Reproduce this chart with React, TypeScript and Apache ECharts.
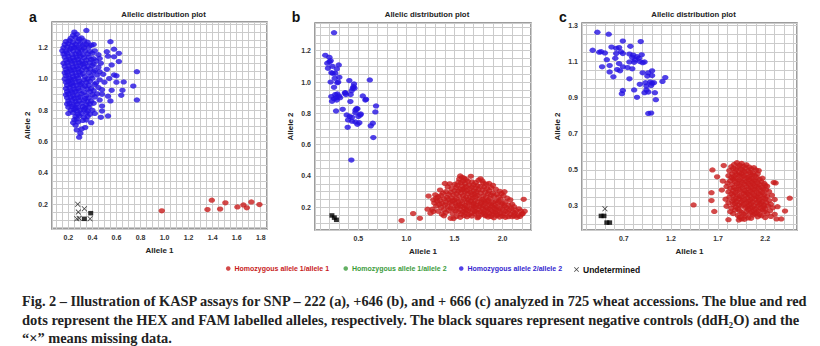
import React, { useEffect, useRef } from "react";
import * as echarts from "echarts";

// ---------- data ----------
const aBlue: number[][] = [
  [0.25,1.30],[0.35,1.31],[0.24,1.28],[0.27,1.285],
  [0.22,1.26],[0.26,1.265],[0.29,1.255],[0.31,1.262],
  [0.18,1.24],[0.21,1.245],[0.24,1.235],[0.28,1.24],[0.33,1.245],[0.36,1.235],[0.55,1.238],
  [0.17,1.22],[0.20,1.225],[0.23,1.215],[0.26,1.22],[0.30,1.225],[0.32,1.215],[0.35,1.22],[0.39,1.215],[0.41,1.22],
  [0.16,1.20],[0.19,1.205],[0.22,1.195],[0.25,1.20],[0.27,1.205],[0.29,1.195],[0.33,1.20],[0.37,1.205],[0.58,1.19],
  [0.15,1.18],[0.18,1.175],[0.21,1.185],[0.24,1.18],[0.28,1.175],[0.31,1.185],[0.34,1.18],[0.38,1.175],[0.42,1.18],[0.52,1.174],[0.62,1.164],
  [0.16,1.16],[0.19,1.165],[0.23,1.155],[0.26,1.16],[0.29,1.165],[0.32,1.155],[0.36,1.16],[0.40,1.165],[0.45,1.155],[0.53,1.146],[0.58,1.142],
  [0.17,1.14],[0.20,1.145],[0.24,1.135],[0.27,1.14],[0.30,1.145],[0.33,1.135],[0.37,1.14],[0.41,1.13],[0.46,1.131],
  [0.18,1.12],[0.21,1.125],[0.22,1.115],[0.25,1.12],[0.28,1.125],[0.31,1.115],[0.35,1.12],[0.39,1.125],[0.43,1.115],[0.62,1.111],
  [0.16,1.10],[0.19,1.105],[0.23,1.095],[0.26,1.10],[0.29,1.105],[0.32,1.095],[0.34,1.10],[0.38,1.105],[0.41,1.095],[0.47,1.10],[0.56,1.09],
  [0.17,1.08],[0.20,1.085],[0.24,1.075],[0.27,1.08],[0.30,1.085],[0.33,1.075],[0.36,1.08],[0.40,1.085],[0.45,1.075],[0.52,1.062],
  [0.18,1.06],[0.21,1.065],[0.22,1.055],[0.25,1.06],[0.28,1.065],[0.31,1.055],[0.35,1.06],[0.38,1.065],[0.42,1.055],[0.46,1.047],[0.77,1.047],
  [0.17,1.04],[0.19,1.045],[0.23,1.035],[0.26,1.04],[0.29,1.045],[0.32,1.035],[0.37,1.04],[0.41,1.045],[0.49,1.03],
  [0.18,1.02],[0.20,1.025],[0.24,1.015],[0.27,1.02],[0.30,1.025],[0.34,1.015],[0.39,1.02],[0.44,1.025],[0.58,1.026],[0.60,1.02],
  [0.17,1.00],[0.21,1.005],[0.22,0.995],[0.25,1.00],[0.28,1.005],[0.33,0.995],[0.36,1.00],[0.40,1.005],[0.46,0.995],[0.54,1.003],
  [0.18,0.98],[0.20,0.985],[0.23,0.975],[0.26,0.98],[0.29,0.985],[0.31,0.975],[0.35,0.98],[0.38,0.985],[0.43,0.975],[0.50,0.98],[0.60,0.98],[0.66,0.981],
  [0.19,0.96],[0.22,0.965],[0.24,0.955],[0.27,0.96],[0.30,0.965],[0.34,0.955],[0.37,0.96],[0.42,0.965],[0.74,0.955],
  [0.18,0.94],[0.21,0.945],[0.25,0.935],[0.28,0.94],[0.32,0.945],[0.36,0.935],[0.39,0.94],[0.45,0.945],[0.48,0.932],
  [0.19,0.92],[0.22,0.925],[0.23,0.915],[0.26,0.92],[0.29,0.925],[0.33,0.915],[0.38,0.92],[0.41,0.925],[0.56,0.928],[0.65,0.928],
  [0.18,0.90],[0.20,0.905],[0.24,0.895],[0.27,0.90],[0.31,0.905],[0.35,0.895],[0.40,0.90],[0.44,0.905],[0.48,0.902],[0.53,0.89],[0.64,0.896],
  [0.19,0.88],[0.22,0.885],[0.25,0.875],[0.28,0.88],[0.30,0.885],[0.34,0.875],[0.37,0.88],[0.42,0.885],
  [0.20,0.86],[0.23,0.865],[0.26,0.855],[0.29,0.86],[0.33,0.865],[0.36,0.855],[0.39,0.86],[0.46,0.866],[0.55,0.86],[0.77,0.866],
  [0.19,0.84],[0.21,0.845],[0.24,0.835],[0.27,0.84],[0.31,0.845],[0.35,0.835],[0.38,0.84],[0.41,0.845],
  [0.20,0.82],[0.23,0.825],[0.26,0.815],[0.28,0.82],[0.32,0.825],[0.34,0.815],[0.37,0.82],[0.48,0.827],
  [0.22,0.80],[0.25,0.805],[0.27,0.795],[0.30,0.80],[0.33,0.805],[0.36,0.795],[0.40,0.80],[0.48,0.795],
  [0.20,0.78],[0.24,0.785],[0.28,0.775],[0.31,0.78],[0.35,0.785],[0.38,0.775],[0.42,0.78],[0.53,0.764],
  [0.26,0.76],[0.29,0.765],[0.33,0.755],[0.36,0.76],[0.47,0.755],
  [0.25,0.74],[0.27,0.745],[0.32,0.735],[0.35,0.738],[0.39,0.721],
  [0.24,0.72],[0.28,0.725],[0.26,0.705],[0.34,0.69],
  [0.27,0.675],[0.31,0.68],[0.30,0.654],[0.29,0.628],
];
const aRed: number[][] = [
  [0.977,0.158],[1.357,0.166],[1.393,0.226],[1.462,0.169],[1.506,0.209],
  [1.606,0.183],[1.656,0.196],[1.684,0.177],[1.722,0.215],[1.789,0.198],
];
const aUndet: number[][] = [
  [0.278,0.20],[0.333,0.171],[0.283,0.150],[0.27,0.107],[0.29,0.11],[0.381,0.107],
];
const aCtrl: number[][] = [[0.333,0.107],[0.386,0.143]];

const bBlue: number[][] = [
  [0.247,1.315],[0.156,1.171],[0.198,1.158],[0.212,1.136],[0.177,1.12],[0.296,1.109],
  [0.184,1.088],[0.275,1.083],[0.233,1.056],[0.26,1.056],[0.302,1.03],[0.254,1.024],
  [0.212,1.0],[0.281,0.996],[0.406,1.009],[0.455,0.988],[0.619,1.013],[0.247,0.966],
  [0.442,0.96],[0.43,0.945],[0.365,0.932],[0.281,0.924],[0.219,0.907],[0.42,0.92],
  [0.546,0.911],[0.247,0.894],[0.275,0.885],[0.226,0.877],[0.573,0.885],[0.417,0.875],
  [0.268,0.815],[0.337,0.826],[0.49,0.83],[0.684,0.847],[0.379,0.79],[0.469,0.804],
  [0.525,0.796],[0.5,0.78],[0.677,0.809],[0.434,0.775],[0.393,0.758],[0.434,0.75],
  [0.51,0.74],[0.49,0.73],[0.65,0.737],[0.629,0.72],[0.389,0.711],[0.656,0.645],[0.427,0.502],
  [0.20,1.13],[0.23,1.10],[0.22,1.06],[0.29,1.00],[0.36,0.93],[0.37,0.92],[0.45,0.97],
  [0.46,0.96],[0.47,0.82],[0.48,0.83],[0.52,0.79],[0.41,0.78],[0.26,0.92],[0.30,0.91],
  [0.31,0.90],[0.27,0.90],[0.58,0.89],[0.47,0.745],
];
const bRed: number[][] = [
  [1.56,0.400],[1.67,0.398],[1.58,0.390],[1.60,0.386],
  [1.55,0.380],[1.62,0.378],[1.77,0.382],
  [1.59,0.370],[1.64,0.366],[1.75,0.372],[1.79,0.368],
  [1.54,0.360],[1.57,0.356],[1.68,0.362],[1.72,0.358],[1.80,0.355],
  [1.40,0.352],[1.45,0.350],[1.50,0.346],[1.61,0.350],[1.70,0.344],[1.83,0.348],[1.86,0.352],
  [1.53,0.340],[1.58,0.336],[1.65,0.342],[1.74,0.338],[1.77,0.334],[1.90,0.340],
  [1.43,0.330],[1.52,0.326],[1.62,0.332],[1.68,0.328],[1.72,0.324],[1.81,0.330],[1.88,0.326],
  [1.47,0.320],[1.56,0.316],[1.60,0.322],[1.66,0.318],[1.75,0.314],[1.84,0.320],[1.93,0.316],
  [1.35,0.310],[1.50,0.306],[1.58,0.312],[1.63,0.308],[1.70,0.304],[1.79,0.310],[1.86,0.306],[1.97,0.302],
  [1.41,0.300],[1.46,0.296],[1.54,0.302],[1.61,0.298],[1.67,0.294],[1.73,0.300],[1.82,0.296],[1.90,0.292],[2.02,0.300],
  [1.38,0.290],[1.52,0.286],[1.57,0.292],[1.64,0.288],[1.71,0.284],[1.77,0.290],[1.85,0.286],[1.94,0.282],[1.99,0.288],
  [1.30,0.280],[1.36,0.276],[1.44,0.282],[1.49,0.278],[1.59,0.274],[1.68,0.280],[1.74,0.276],[1.80,0.272],[1.88,0.278],[2.01,0.274],
  [1.23,0.272],[1.33,0.268],[1.42,0.264],[1.55,0.270],[1.62,0.266],[1.66,0.262],[1.72,0.268],[1.83,0.264],[1.91,0.270],[1.96,0.266],
  [1.31,0.258],[1.39,0.254],[1.47,0.260],[1.52,0.256],[1.60,0.252],[1.69,0.258],[1.76,0.254],[1.79,0.250],[1.87,0.256],[1.98,0.252],[2.05,0.258],
  [1.28,0.248],[1.35,0.244],[1.44,0.250],[1.50,0.246],[1.57,0.242],[1.64,0.248],[1.71,0.244],[1.81,0.240],[1.85,0.246],[1.93,0.242],[2.08,0.248],[2.22,0.251],
  [1.32,0.238],[1.41,0.234],[1.48,0.240],[1.54,0.236],[1.63,0.232],[1.67,0.238],[1.74,0.234],[1.78,0.230],[1.84,0.236],[1.90,0.232],[1.96,0.238],[2.03,0.234],
  [1.29,0.228],[1.37,0.224],[1.45,0.230],[1.51,0.226],[1.58,0.222],[1.65,0.228],[1.70,0.224],[1.77,0.220],[1.82,0.226],[1.88,0.222],[1.95,0.228],[2.00,0.224],[2.10,0.220],
  [1.34,0.218],[1.40,0.214],[1.47,0.220],[1.55,0.216],[1.61,0.212],[1.68,0.218],[1.73,0.214],[1.80,0.210],[1.86,0.216],[1.92,0.212],[1.99,0.218],[2.06,0.214],
  [1.31,0.208],[1.43,0.204],[1.52,0.210],[1.57,0.206],[1.63,0.202],[1.70,0.208],[1.76,0.204],[1.83,0.200],[1.89,0.206],[1.94,0.202],[2.02,0.208],[2.12,0.204],
  [1.36,0.198],[1.46,0.194],[1.53,0.200],[1.60,0.196],[1.66,0.192],[1.72,0.198],[1.79,0.194],[1.85,0.190],[1.91,0.196],[1.97,0.192],[2.04,0.198],[2.09,0.194],[2.17,0.190],
  [1.27,0.188],[1.39,0.184],[1.49,0.190],[1.56,0.186],[1.62,0.182],[1.69,0.188],[1.75,0.184],[1.81,0.180],[1.87,0.186],[1.93,0.182],[2.00,0.188],[2.07,0.184],[2.14,0.180],
  [1.22,0.188],[1.33,0.174],[1.44,0.180],[1.51,0.176],[1.59,0.172],[1.64,0.178],[1.71,0.174],[1.77,0.170],[1.84,0.176],[1.90,0.172],[1.96,0.178],[2.03,0.174],[2.11,0.170],[2.19,0.176],
  [1.28,0.173],[1.41,0.166],[1.54,0.170],[1.61,0.166],[1.67,0.162],[1.73,0.168],[1.80,0.164],[1.86,0.160],[1.92,0.166],[1.98,0.162],[2.05,0.168],[2.13,0.164],[2.21,0.160],[2.23,0.175],
  [1.07,0.160],[1.25,0.162],[1.37,0.156],[1.48,0.160],[1.57,0.156],[1.65,0.152],[1.71,0.158],[1.78,0.154],[1.83,0.150],[1.89,0.156],[1.95,0.152],[2.01,0.158],[2.08,0.154],[2.16,0.150],[2.20,0.156],
  [1.39,0.146],[1.52,0.142],[1.60,0.148],[1.68,0.144],[1.75,0.140],[1.82,0.146],[1.88,0.142],[1.94,0.148],[2.00,0.144],[2.06,0.140],[2.12,0.146],[2.18,0.142],
  [1.56,0.136],[1.63,0.140],[1.74,0.134],[1.85,0.138],[1.91,0.134],[1.97,0.138],[2.03,0.136],[2.10,0.140],[2.15,0.136],
  [1.14,0.130],[1.46,0.130],[1.49,0.128],[0.95,0.115],
];
const bCtrl: number[][] = [[0.225,0.148],[0.25,0.134],[0.272,0.12]];

const cBlue: number[][] = [
  [0.42,1.263],[0.54,1.252],[0.37,1.163],[0.44,1.152],[0.46,1.155],[0.50,1.148],[0.52,1.111],
  [0.57,1.181],[0.62,1.174],[0.65,1.178],[0.69,1.214],[0.77,1.185],[0.88,1.211],
  [0.62,1.145],[0.67,1.155],[0.69,1.145],[0.61,1.118],[0.76,1.142],[0.80,1.136],[0.79,1.123],
  [0.84,1.127],[0.89,1.138],[0.86,1.118],[0.82,1.109],[0.81,1.096],[0.76,1.098],[0.87,1.10],[0.92,1.098],[0.90,1.094],
  [0.47,1.071],[0.55,1.078],[0.65,1.089],[0.69,1.071],[0.63,1.056],[0.74,1.067],[0.66,1.049],[0.55,1.043],[0.79,1.06],[0.59,1.016],
  [0.76,1.005],[0.90,1.038],[0.96,1.038],[1.00,1.049],[0.95,1.02],[1.00,1.023],[1.14,1.012],[1.11,0.99],
  [0.87,0.974],[0.93,0.983],[0.98,0.987],[1.00,0.98],[1.02,0.983],[0.94,0.965],[0.99,0.968],
  [0.69,0.94],[0.68,0.922],[0.81,0.943],[0.94,0.943],[0.92,0.928],[0.96,0.931],[1.03,0.928],
  [0.84,0.902],[1.04,0.889],[0.96,0.813],[0.99,0.815],
];
const cRed: number[][] = [
  [1.90,0.540],[1.95,0.536],
  [1.76,0.524],[1.87,0.530],[1.93,0.526],[2.00,0.528],
  [1.84,0.518],[1.91,0.514],[1.97,0.520],[2.03,0.516],[2.08,0.512],
  [1.86,0.508],[1.94,0.504],[1.99,0.510],[2.05,0.506],
  [1.64,0.500],[1.82,0.496],[1.89,0.502],[1.96,0.498],[2.02,0.494],[2.10,0.500],[2.13,0.496],
  [1.88,0.488],[1.92,0.484],[1.98,0.490],[2.04,0.486],[2.07,0.482],
  [1.85,0.478],[1.90,0.474],[1.95,0.480],[2.00,0.476],[2.06,0.472],[2.12,0.478],
  [1.69,0.462],[1.81,0.468],[1.87,0.464],[1.93,0.470],[1.97,0.466],[2.03,0.462],[2.09,0.468],
  [1.84,0.458],[1.89,0.454],[1.95,0.460],[2.01,0.456],[2.05,0.452],[2.11,0.458],[2.17,0.454],
  [1.86,0.448],[1.92,0.444],[1.98,0.450],[2.03,0.446],[2.08,0.442],[2.14,0.448],
  [1.75,0.438],[1.83,0.440],[1.88,0.434],[1.94,0.438],[2.00,0.436],[2.06,0.432],[2.10,0.438],[2.16,0.434],
  [1.80,0.428],[1.90,0.424],[1.96,0.430],[2.02,0.426],[2.07,0.422],[2.12,0.428],[2.19,0.424],[2.29,0.430],
  [1.85,0.418],[1.92,0.414],[1.98,0.420],[2.04,0.416],[2.09,0.412],[2.14,0.418],[2.20,0.414],[2.31,0.428],
  [1.79,0.408],[1.87,0.404],[1.94,0.410],[2.00,0.406],[2.05,0.402],[2.11,0.408],[2.16,0.404],[2.22,0.410],
  [1.83,0.398],[1.89,0.394],[1.96,0.400],[2.02,0.396],[2.07,0.392],[2.13,0.398],[2.18,0.394],
  [1.74,0.388],[1.86,0.384],[1.92,0.390],[1.98,0.386],[2.04,0.382],[2.09,0.388],[2.15,0.384],[2.21,0.390],
  [1.81,0.378],[1.88,0.374],[1.94,0.380],[2.00,0.376],[2.06,0.372],[2.11,0.378],[2.17,0.374],[2.24,0.380],
  [1.63,0.374],[1.84,0.368],[1.90,0.364],[1.97,0.370],[2.02,0.366],[2.08,0.362],[2.13,0.368],[2.19,0.364],
  [1.86,0.358],[1.93,0.354],[1.99,0.360],[2.04,0.356],[2.10,0.352],[2.15,0.358],[2.22,0.354],[2.27,0.360],
  [1.82,0.348],[1.89,0.344],[1.95,0.350],[2.01,0.346],[2.06,0.342],[2.12,0.348],[2.18,0.344],
  [1.78,0.338],[1.87,0.334],[1.92,0.340],[1.98,0.336],[2.04,0.332],[2.09,0.338],[2.14,0.334],[2.20,0.340],[2.30,0.336],[2.46,0.343],
  [1.63,0.330],[1.85,0.328],[1.90,0.324],[1.96,0.330],[2.02,0.326],[2.07,0.322],[2.13,0.328],[2.17,0.324],[2.24,0.330],
  [1.81,0.318],[1.88,0.314],[1.94,0.320],[2.00,0.316],[2.05,0.312],[2.11,0.318],[2.16,0.314],[2.21,0.320],
  [1.86,0.308],[1.92,0.304],[1.97,0.310],[2.03,0.306],[2.08,0.302],[2.14,0.308],[2.19,0.304],[2.26,0.310],
  [1.44,0.306],[1.79,0.298],[1.89,0.294],[1.95,0.300],[2.01,0.296],[2.06,0.292],[2.12,0.298],[2.18,0.294],[2.23,0.300],[2.33,0.296],
  [1.84,0.288],[1.91,0.284],[1.99,0.290],[2.04,0.286],[2.10,0.282],[2.15,0.288],[2.20,0.284],[2.28,0.290],
  [1.88,0.278],[1.93,0.274],[2.02,0.280],[2.08,0.276],[2.13,0.272],[2.17,0.278],[2.25,0.274],
  [1.66,0.270],[1.83,0.268],[1.95,0.264],[2.00,0.270],[2.06,0.266],[2.11,0.262],[2.19,0.268],[2.41,0.272],
  [1.86,0.258],[1.97,0.254],[2.04,0.260],[2.09,0.256],[2.14,0.252],[2.22,0.258],[2.30,0.254],
  [1.91,0.248],[1.99,0.244],[2.07,0.250],[2.16,0.246],[2.26,0.242],
  [1.93,0.238],[2.02,0.234],[2.12,0.240],[2.20,0.236],
  [1.95,0.228],[2.05,0.232],[2.32,0.228],[2.37,0.228],
  [1.81,0.224],[1.92,0.222],[1.98,0.226],
];
const cUndet: number[][] = [[0.50,0.285]];
const cCtrl: number[][] = [[0.46,0.245],[0.49,0.245],[0.52,0.208],[0.55,0.208]];

const SERIES_NAMES = [
  "Homozygous allele 1/allele 1",
  "Homozygous allele 1/allele 2",
  "Homozygous allele 2/allele 2",
  "Undetermined",
];
const PANEL_LETTERS = ["a", "b", "c"];
const PANEL_TITLE = "Allelic distribution plot";
const X_NAME = "Allele 1";
const Y_NAME = "Allele 2";
const CAPTION = [
  "Fig. 2 – Illustration of KASP assays for SNP – 222 (a), +646 (b), and + 666 (c) analyzed in 725 wheat accessions. The blue and red",
  "dots represent the HEX and FAM labelled alleles, respectively. The black squares represent negative controls (ddH₂O) and the",
  "“×” means missing data.",
];

// ---------- styling / layout ----------
const RED = "#c81b1b";
const GREEN = "#3c9c3c";
const BLUE = "#2412e2";
const XMARK = "path://M0,1L1,0L5,4L9,0L10,1L6,5L10,9L9,10L5,6L1,10L0,9L4,5Z";
const FONT = "Liberation Sans";
const CAPTION_SIZES = [14.35, 14.5, 14.4];
const CAPTION_Y = [301, 320, 337.5];

const panels = [
  { left: 52, top: 22, width: 215, height: 207, xMin: 0.064, xMax: 1.852, yMin: 0.042, yMax: 1.364,
    xMinor: 0.05, xLab: 0.2, xBase: 0, yMinor: 0.05, yLab: 0.2, yBase: 0,
    blue: aBlue, red: aRed, undet: aUndet, ctrl: aCtrl },
  { left: 315, top: 23, width: 216, height: 207, xMin: 0.049, xMax: 2.296, yMin: 0.055, yMax: 1.377,
    xMinor: 0.1, xLab: 0.5, xBase: 0, yMinor: 0.05, yLab: 0.2, yBase: 0,
    blue: bBlue, red: bRed, undet: [] as number[][], ctrl: bCtrl },
  { left: 582, top: 23, width: 215, height: 207, xMin: 0.257, xMax: 2.537, yMin: 0.167, yMax: 1.314,
    xMinor: 0.1, xLab: 0.5, xBase: 0.2, yMinor: 0.05, yLab: 0.2, yBase: 0.1,
    blue: cBlue, red: cRed, undet: cUndet, ctrl: cCtrl },
];

function labelFormatter(step: number, base: number) {
  return (v: number) => {
    const k = Math.round(v * 100);
    if (Math.abs(v * 100 - k) > 1e-4) return "";
    const d = k - Math.round(base * 100);
    return d % Math.round(step * 100) === 0 ? v.toFixed(1) : "";
  };
}

function makeAxis(gi: number, min: number, max: number, minor: number, step: number, base: number, name: string, isX: boolean) {
  return {
    type: "value",
    gridIndex: gi,
    min, max,
    minInterval: minor,
    maxInterval: minor,
    name,
    nameLocation: "middle",
    nameGap: isX ? 17 : 21,
    nameTextStyle: { fontSize: 8, fontWeight: "bold", color: "#222", fontFamily: FONT },
    axisLine: { show: false },
    axisTick: { show: false },
    axisLabel: { fontSize: 7, fontWeight: "bold", color: "#333", margin: isX ? 5 : 4, fontFamily: FONT,
      formatter: labelFormatter(step, base) },
    splitLine: { show: true, lineStyle: { color: "#cbcbcb", width: 1 } },
  };
}

export default function App() {
  const ref = useRef<HTMLDivElement>(null);
  useEffect(() => {
    if (!ref.current) return;
    const chart = echarts.init(ref.current, null, { renderer: "svg" });
    const grid: any[] = [];
    const xAxis: any[] = [];
    const yAxis: any[] = [];
    const series: any[] = [];
    const graphic: any[] = [];
    panels.forEach((p, i) => {
      grid.push({ left: p.left, top: p.top, width: p.width, height: p.height, show: true,
        borderColor: "#7d7d7d", borderWidth: 1.5, backgroundColor: "#fff", containLabel: false });
      xAxis.push(makeAxis(i, p.xMin, p.xMax, p.xMinor, p.xLab, p.xBase, X_NAME, true));
      yAxis.push(makeAxis(i, p.yMin, p.yMax, p.yMinor, p.yLab, p.yBase, Y_NAME, false));
      const common = { type: "scatter", xAxisIndex: i, yAxisIndex: i };
      series.push({ ...common, name: SERIES_NAMES[2], data: p.blue, symbol: "circle", symbolSize: [6.5, 5.2], itemStyle: { color: BLUE } });
      series.push({ ...common, name: SERIES_NAMES[0], data: p.red, symbol: "circle", symbolSize: [6.5, 5.2], itemStyle: { color: RED } });
      series.push({ ...common, name: SERIES_NAMES[3], data: p.undet, symbol: XMARK, symbolSize: 5.5, itemStyle: { color: "#111" } });
      series.push({ ...common, name: "Negative control", data: p.ctrl, symbol: "rect", symbolSize: [5, 4.5], itemStyle: { color: "#000" } });
      graphic.push({ type: "text", x: p.left + p.width / 2 + 4, y: 14,
        style: { text: PANEL_TITLE, align: "center", verticalAlign: "middle", textAlign: "center", textVerticalAlign: "middle",
          fontSize: 7.8, fontWeight: "bold", fontFamily: FONT, fill: "#222" } });
      graphic.push({ type: "text", x: p.left - 19, y: 17,
        style: { text: PANEL_LETTERS[i], align: "center", verticalAlign: "middle", textAlign: "center", textVerticalAlign: "middle",
          fontSize: 14, fontWeight: "bold", fontFamily: FONT, fill: "#111" } });
    });
    series.push({ type: "scatter", xAxisIndex: 0, yAxisIndex: 0, name: SERIES_NAMES[1], data: [], symbol: "circle", itemStyle: { color: GREEN } });

    CAPTION.forEach((line, j) => {
      graphic.push({ type: "text", x: 22, y: CAPTION_Y[j],
        style: { text: line, align: "left", verticalAlign: "middle", textAlign: "left", textVerticalAlign: "middle",
          fontSize: CAPTION_SIZES[j], fontWeight: "bold", fontFamily: "Liberation Serif", fill: "#222" } });
    });

    const legendItem = (name: string, left: number, color: string, icon: string, size: number, fs: number, textColor: string) => ({
      left, top: 265, padding: 0, itemWidth: size, itemHeight: size, itemGap: 0, selectedMode: false,
      data: [{ name, icon, itemStyle: { color } }],
      textStyle: { fontSize: fs, fontWeight: "bold", color: textColor, fontFamily: FONT, padding: [0, 0, 0, -1] },
    });

    chart.setOption({
      animation: false,
      backgroundColor: "#fff",
      textStyle: { fontFamily: FONT },
      grid, xAxis, yAxis, series, graphic,
      legend: [
        legendItem(SERIES_NAMES[0], 226, RED, "circle", 4.5, 7, RED),
        legendItem(SERIES_NAMES[1], 343.5, GREEN, "circle", 4.5, 7, GREEN),
        legendItem(SERIES_NAMES[2], 459, BLUE, "circle", 4.5, 7, "#3526cf"),
        legendItem(SERIES_NAMES[3], 574, "#111", XMARK, 5, 8.5, "#111"),
      ],
    });
    return () => chart.dispose();
  }, []);
  return <div ref={ref} style={{ position: "absolute", left: 0, top: 0, width: 820, height: 346, background: "#fff" }} />;
}
